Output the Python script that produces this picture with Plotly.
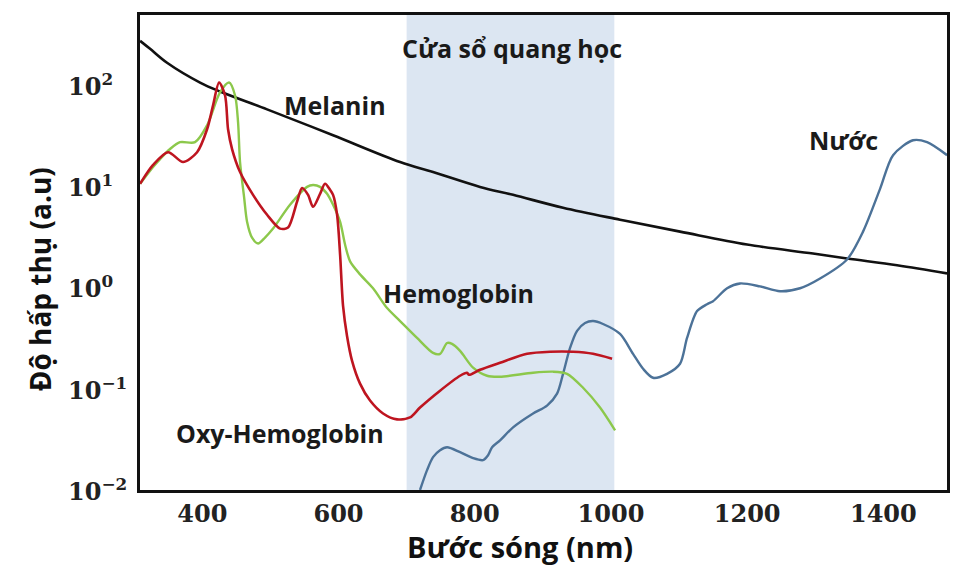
import plotly.graph_objects as go

# Absorption spectra (arbitrary units) versus wavelength in nm
melanin_nm = [308.6, 323.3, 348.2, 396.7, 426.0, 495.1, 592.0, 690.4, 738.8, 807.8, 856.3,
              929.7, 1013.4, 1101.5, 1199.9, 1296.8, 1346.7, 1420.2, 1493.6]
melanin_abs = [270, 225, 164, 104.6, 85.4, 56.9, 31.6, 17.2, 13.7, 9.78, 8.16,
               6.09, 4.64, 3.54, 2.64, 2.15, 1.92, 1.65, 1.37]

oxy_nm = [308.6, 327.7, 349.7, 371.7, 392.3, 407.0, 415.8, 424.6, 433.4, 437.8, 443.7,
          455.4, 474.5, 495.1, 514.2, 525.9, 539.1, 546.5, 555.3, 562.6, 572.9, 580.2,
          587.6, 592.0, 597.9, 602.3, 606.7, 612.5, 619.9, 631.6, 646.3, 665.4, 686.0, 705.0,
          719.7, 749.1, 778.5, 788.7, 791.7, 807.8, 837.2, 876.9, 910.6, 944.4, 973.8, 1001.7]
oxy_abs = [10.5, 16.1, 21.5, 17.2, 21.5, 36.2, 62.3, 104.6, 78.0, 36.2, 23.1,
           13.7, 8.16, 5.19, 3.79, 3.88, 6.97, 9.55, 8.16, 6.22, 8.35, 10.5,
           9.14, 8.16, 5.19, 2.11, 0.65, 0.331, 0.188, 0.112, 0.0763, 0.0569, 0.0497, 0.0520,
           0.0651, 0.0955, 0.134, 0.1435, 0.137, 0.1535, 0.180, 0.2205, 0.231, 0.231, 0.2205, 0.197]

hb_nm = [308.6, 327.7, 338.0, 352.6, 367.3, 389.3, 407.0, 426.0, 439.3, 448.1, 452.5,
         455.4, 461.3, 465.7, 473.0, 481.9, 492.1, 503.9, 528.8, 553.8, 562.6, 572.9,
         583.2, 592.0, 602.3, 609.6, 617.0, 631.6, 650.7, 671.3, 690.4, 715.3, 738.8, 749.1,
         759.4, 766.7, 778.5, 797.6, 818.1, 837.2, 885.7, 915.0, 935.6, 959.1, 984.0, 1006.1]
hb_abs = [10.5, 15.4, 18.4, 23.1, 27.0, 27.0, 39.6, 83.5, 104.6, 78.0, 42.4,
          17.2, 7.80, 4.44, 3.09, 2.70, 3.09, 3.79, 6.51, 9.78, 10.2, 9.78,
          8.35, 6.51, 4.44, 2.64, 1.80, 1.34, 0.978, 0.623, 0.464, 0.316, 0.225, 0.220,
          0.282, 0.276, 0.236, 0.161, 0.134, 0.131, 0.1435, 0.147, 0.140, 0.102, 0.0651, 0.0388]

water_nm = [719.7, 730.0, 738.8, 749.1, 759.4, 778.5, 797.6, 812.2, 819.6, 825.5, 837.2,
            856.3, 885.7, 906.2, 920.9, 929.7, 940.0, 950.3, 962.0, 973.8, 988.4, 1013.4,
            1032.5, 1047.2, 1061.9, 1082.4, 1101.5, 1111.8, 1126.5, 1141.2, 1150.0, 1170.6,
            1189.6, 1219.0, 1248.4, 1277.7, 1307.1, 1346.7, 1370.2, 1395.2, 1414.3, 1443.6,
            1464.2, 1493.6]
water_abs = [0.0100, 0.0157, 0.0211, 0.0247, 0.0264, 0.0236, 0.0206, 0.0197, 0.0220, 0.0264, 0.0309,
             0.0415, 0.0569, 0.0681, 0.0893, 0.140, 0.252, 0.371, 0.444, 0.464, 0.434, 0.346,
             0.220, 0.157, 0.128, 0.140, 0.176, 0.316, 0.582, 0.681, 0.729, 0.978,
             1.09, 1.02, 0.914, 0.978, 1.22, 1.88, 3.54, 9.35, 20.1, 28.2,
             27.0, 20.1]

# Optical window band
window_nm = [700, 1005]

x_ticks = [400, 600, 800, 1000, 1200, 1400]
y_ticks = [0.01, 0.1, 1, 10, 100]
y_tick_text = ["10<sup>−2</sup>", "10<sup>−1</sup>", "10<sup>0</sup>", "10<sup>1</sup>", "10<sup>2</sup>"]
y_tick_exp = [-2, -1, 0, 1, 2]

W, H = 963, 569
ML, MR, MT, MB = 140, 16, 12, 79
PW, PH = W - ML - MR, H - MT - MB

fig = go.Figure()

fig.add_shape(type="rect", xref="x", yref="paper", x0=window_nm[0], x1=window_nm[1],
              y0=0, y1=1, fillcolor="#dce6f2", line=dict(width=0), layer="below")

def add_line(xs, ys, color, width, smoothing=0.8):
    fig.add_trace(go.Scatter(x=xs, y=ys, mode="lines",
                             line=dict(color=color, width=width, shape="spline", smoothing=smoothing),
                             hoverinfo="skip", showlegend=False))

add_line(melanin_nm, melanin_abs, "#111111", 2.6, 1.0)
add_line(water_nm, water_abs, "#4c7298", 2.4)
add_line(hb_nm, hb_abs, "#8cc84b", 2.4)
add_line(oxy_nm, oxy_abs, "#be1520", 2.6)

label_font = dict(family="Open Sans", size=25, color="#1a1a1a")
labels = [
    ("<b>Cửa sổ quang học</b>", 854.8, 2.363),
    ("<b>Melanin</b>", 594.9, 1.794),
    ("<b>Hemoglobin</b>", 775.5, -0.059),
    ("<b>Oxy-Hemoglobin</b>", 514.2, -1.441),
    ("<b>Nước</b>", 1340.9, 1.451),
]
for text, xv, yv in labels:
    fig.add_annotation(text=text, x=xv, y=yv, xref="x", yref="y", showarrow=False,
                       font=label_font, xanchor="center", yanchor="middle")

# y tick labels, left aligned in a column beside the axis
for txt, e in zip(y_tick_text, y_tick_exp):
    fig.add_annotation(text="<b>" + txt + "</b>", x=(66 - ML) / PW, y=e, xref="paper", yref="y",
                       showarrow=False, xanchor="left", yanchor="middle",
                       font=dict(family="DejaVu Serif", size=24, color="#222222"))

# axis titles
fig.add_annotation(text="<b>Bước sóng (nm)</b>", x=(520 - ML) / PW, y=-(547 - (MT + PH)) / PH,
                   xref="paper", yref="paper", showarrow=False, xanchor="center", yanchor="middle",
                   font=dict(family="Open Sans", size=29, color="#111111"))
fig.add_annotation(text="<b>Độ hấp thụ (a.u)</b>", x=(40 - ML) / PW, y=((MT + PH) - 278) / PH,
                   xref="paper", yref="paper", showarrow=False, textangle=-90,
                   xanchor="center", yanchor="middle",
                   font=dict(family="Open Sans", size=28, color="#111111"))

fig.update_layout(
    width=W, height=H,
    margin=dict(l=ML, r=MR, t=MT, b=MB),
    paper_bgcolor="white", plot_bgcolor="white",
    showlegend=False,
    xaxis=dict(range=[308.5, 1493.5], tickmode="array", tickvals=x_ticks,
               ticktext=["<b>%d</b>" % v for v in x_ticks],
               tickfont=dict(family="DejaVu Serif", size=24, color="#222222"),
               showgrid=False, zeroline=False, showline=True, linecolor="#111111",
               linewidth=3, mirror=True, ticks="", ticklabelstandoff=0),
    yaxis=dict(type="log", range=[-2, 2.686], tickmode="array", tickvals=y_ticks,
               showticklabels=False,
               showgrid=False, zeroline=False, showline=True, linecolor="#111111",
               linewidth=3, mirror=True, ticks=""),
)

fig.write_html("out.html")
